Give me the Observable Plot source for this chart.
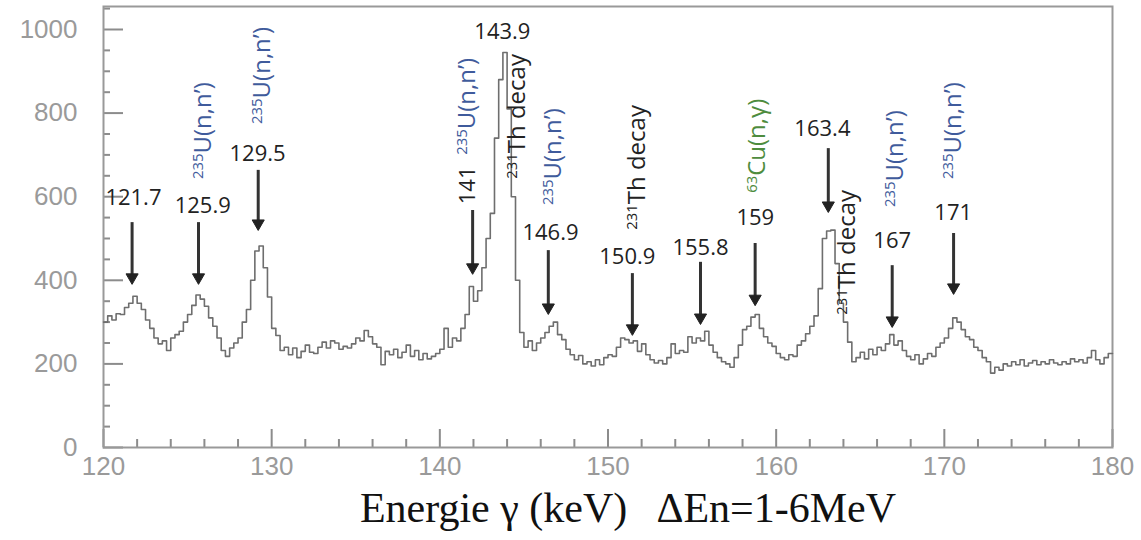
<!DOCTYPE html>
<html><head><meta charset="utf-8">
<script src="https://cdn.jsdelivr.net/npm/d3@7"></script>
<script src="https://cdn.jsdelivr.net/npm/@observablehq/plot@0.6"></script>
<style>body{margin:0;background:#fff;}</style>
</head><body><div id="chart"></div>
<script>
// Spectrum: counts per 0.25 keV bin starting at 120 keV
const binStart = 120;
const binWidth = 0.25;
const counts = [
  300,315,305,320,318,335,345,362,345,330,305,285,262,248,255,232,262,270,278,300,
  318,340,365,355,338,310,290,262,232,218,238,250,262,300,330,400,470,482,430,360,
  285,268,232,240,222,238,215,230,245,228,225,240,252,238,255,250,235,242,238,248,
  262,255,280,265,248,240,198,230,222,235,215,228,245,218,232,210,225,212,218,225,
  235,285,240,262,255,285,318,385,350,375,430,500,560,740,880,945,810,600,400,275,
  240,255,232,250,262,275,290,300,270,258,235,222,210,220,200,205,195,210,198,215,
  222,218,240,262,258,250,255,230,248,222,210,202,208,200,215,248,225,232,228,265,
  250,262,255,278,245,228,215,205,200,192,215,245,282,290,312,318,285,265,250,242,
  225,215,210,222,218,245,255,272,290,315,380,500,518,520,440,345,300,252,205,215,
  228,212,235,222,240,232,248,270,245,255,232,218,210,222,200,212,225,218,240,250,
  262,285,310,300,282,265,258,240,232,215,205,178,192,185,200,195,205,198,210,195,
  202,208,198,205,200,210,202,198,205,200,212,205,210,202,215,232,210,200,215,225
];
const xMajor = [120,130,140,150,160,170,180];
const xMinor = [122,124,126,128,132,134,136,138,142,144,146,148,152,154,156,158,162,164,166,168,172,174,176,178];
const yMajor = [0,200,400,600,800,1000];
const yMinor = [50,100,150,250,300,350,450,500,550,650,700,750,850,900,950,1050];

// Arrows (energy, top count, tip count)
const arrowE   = [121.7,125.65,129.2,141.95,146.45,151.45,155.5,158.75,163.1,166.9,170.55];
const arrowTop = [538,538,663,567,471,416,443,488,715,435,512];
const arrowTip = [407,407,536,431,335,285,311,356,579,304,383];

// Energy labels
const energyText   = ["121.7","125.9","129.5","141","143.9","146.9","150.9","155.8","159","163.4","167","171"];
const energyLabelE = [121.78,125.9,129.16,141.7,143.72,146.58,151.15,155.5,158.76,162.75,166.9,170.53];
const energyLabelC = [596,579,703,627,993,514,455,478,548,763,495,562];
const energyRot    = [0,0,0,-90,0,0,0,0,0,0,0,0];

// Reaction labels (rotated)
const reactionText = ["235U(n,n’)","235U(n,n’)","235U(n,n’)","231Th decay","235U(n,n’)","231Th decay","63Cu(n,γ)","231Th decay","235U(n,n’)","235U(n,n’)"];
const reactionE    = [125.95,129.45,141.64,144.61,146.75,151.75,158.88,164.23,167.08,170.53];
const reactionC    = [758,890,816,792,696,670,722,467,691,758];
const reactionKind = ["U","U","U","Th","U","Th","Cu","Th","U","U"];
const kindColor = {U:"#3f5b9c", Th:"#222222", Cu:"#4e8c3e"};

const title = "Energie γ (keV)   ΔEn=1-6MeV";

const spectrum = counts.map((c,i)=>({e: binStart + i*binWidth, c}));
spectrum.push({e: binStart + counts.length*binWidth, c: counts[counts.length-1]});
const arrows = arrowE.map((e,i)=>({e, top: arrowTop[i], tip: arrowTip[i]}));
const eLabels = energyText.map((t,i)=>({t, e: energyLabelE[i], c: energyLabelC[i], r: energyRot[i]}));
const rLabels = reactionText.map((t,i)=>({t, e: reactionE[i], c: reactionC[i], col: kindColor[reactionKind[i]]}));

const W = 1141, H = 540, mL = 103, mR = 29, mT = 6, mB = 93;
const fw = W - mL - mR, fh = H - mT - mB;
const gray = "#8c8c8c";

const chart = Plot.plot({
  width: W, height: H,
  marginLeft: mL, marginRight: mR, marginTop: mT, marginBottom: mB,
  x: {domain: [120, 180]},
  y: {domain: [0, 1055]},
  style: {fontFamily: "Open Sans", background: "#fff"},
  marks: [
    Plot.tickY(yMajor, {y: d=>d, stroke: gray, strokeWidth: 2, insetRight: fw - 20}),
    Plot.tickY(yMinor, {y: d=>d, stroke: gray, strokeWidth: 2, insetRight: fw - 7}),
    Plot.tickX(xMajor, {x: d=>d, stroke: gray, strokeWidth: 2, insetTop: fh - 18}),
    Plot.tickX(xMinor, {x: d=>d, stroke: gray, strokeWidth: 2, insetTop: fh - 8}),
    Plot.axisY({ticks: yMajor, tickSize: 0, tickPadding: 26, fontSize: 26, fill: "#9a9a9a", label: null, fontFamily: "Liberation Sans", tickFormat: d=>String(d)}),
    Plot.axisX({ticks: xMajor, tickSize: 0, tickPadding: 9, fontSize: 26, fill: "#9a9a9a", label: null, fontFamily: "Liberation Sans", tickFormat: d=>String(d)}),
    Plot.frame({stroke: "#999", strokeWidth: 2}),
    Plot.line(spectrum, {x: "e", y: "c", curve: "step-after", stroke: "#6e6e6e", strokeWidth: 1.6}),
    Plot.ruleX(arrows, {x: "e", y1: "top", y2: "tip", stroke: "#333", strokeWidth: 3}),
    Plot.dot(arrows, {x: "e", y: "tip", symbol: "triangle", rotate: 180, r: 4.5, fill: "#222", stroke: "#222", strokeWidth: 1}),
    Plot.text(eLabels, {x: "e", y: "c", text: "t", rotate: "r", fontSize: 22, fill: "#222"}),
    Plot.text(rLabels, {x: "e", y: "c", text: "t", rotate: -90, fontSize: 24, fill: "col"}),
    Plot.text([title], {frameAnchor: "bottom", text: d=>d, dx: 20, dy: 74, fontSize: 42, fontFamily: "Liberation Serif", fill: "#111"})
  ]
});

// superscript isotope numbers
d3.select(chart).selectAll("text").each(function(){
  const el = this;
  if (el.querySelector("tspan")) return;
  const m = /^(\d+)([A-Za-z].*)$/.exec(el.textContent);
  if (!m) return;
  el.textContent = "";
  const s1 = document.createElementNS("http://www.w3.org/2000/svg","tspan");
  s1.setAttribute("font-size","0.62em");
  s1.setAttribute("dy","-0.55em");
  s1.textContent = m[1];
  const s2 = document.createElementNS("http://www.w3.org/2000/svg","tspan");
  s2.setAttribute("dy", (0.55*0.62).toFixed(3) + "em");
  s2.textContent = m[2];
  el.appendChild(s1); el.appendChild(s2);
});

document.getElementById("chart").appendChild(chart);
</script>
</body></html>
